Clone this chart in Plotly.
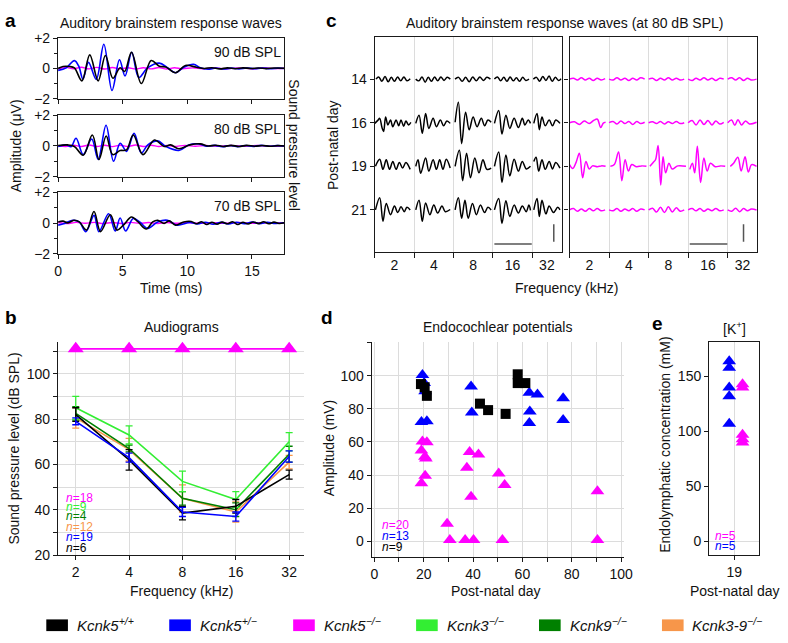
import math
import plotly.graph_objects as go

W, H = 788, 643
FONT = "Liberation Sans, Arial, Helvetica, sans-serif"

C_WT = "#000000"
C_HET = "#0000ff"
C_KO = "#ff00ff"
C_K3 = "#33ee33"
C_K9 = "#008000"
C_K39 = "#f7964a"
GRID = "#dcdcdc"

# ---------------- panel a : ABR waves (time ms, amplitude uV) ----------------
a90_ko = [(0, -0.05), (0.6, 0.07), (1.2, -0.02), (1.8, 0.08), (2.4, -0.03), (3.0, 0.07), (3.6, -0.04),
          (4.2, 0.06), (4.8, -0.03), (5.4, 0.05), (6.0, -0.04), (6.6, 0.05), (7.2, -0.03), (7.8, 0.06),
          (8.4, -0.04), (9.0, 0.05), (9.6, -0.02), (10.4, 0.04), (11.2, -0.02), (12, 0.03), (13, -0.02),
          (14, 0.03), (15, -0.02), (16, 0.03), (17, -0.01), (17.5, 0.01)]
a90_het = [(0, -0.13), (0.63, 0.04), (1.26, 0.52), (1.6, 0.15), (1.92, -0.7), (2.35, 0.4), (2.95, -0.72),
           (3.54, 1.6), (4.17, -1.46), (4.75, 0.58), (5.18, -0.5), (5.7, 1.07), (6.24, -0.6), (6.94, 0.05),
           (7.83, 0.35), (8.46, 0.05), (9.09, -0.28), (9.72, 0.08), (10.48, 0.28), (11, 0.04), (11.6, -0.05),
           (12.2, 0.03), (12.8, -0.04), (13.4, 0.02), (14, -0.03), (14.6, 0.03), (15.2, -0.02), (15.8, 0.03),
           (16.4, -0.02), (17, 0.02), (17.5, 0)]
a90_wt = [(0, 0), (0.38, 0.13), (0.88, 0.13), (1.26, 0.04), (1.84, -0.82), (2.45, 0.9), (3.1, -0.82),
          (3.66, 0.86), (4.24, -0.65), (4.8, 0.05), (5.15, -0.2), (5.68, 1.07), (6.44, -1.0), (7.2, 0.52),
          (7.83, 0.15), (8.33, 0.1), (9.09, -0.28), (9.85, 0.2), (10.7, 0.08), (11.3, 0.0), (11.9, 0.05),
          (12.5, -0.03), (13.1, 0.04), (13.7, -0.02), (14.3, 0.04), (14.9, 0.0), (15.5, 0.03), (16.1, -0.01),
          (16.7, 0.03), (17.5, 0.01)]

a80_ko = [(0, 0.02), (0.6, -0.04), (1.2, 0.05), (1.8, -0.03), (2.4, 0.06), (3.0, -0.03), (3.6, 0.05),
          (4.2, -0.04), (4.8, 0.05), (5.4, -0.03), (6.0, 0.06), (6.6, -0.03), (7.2, 0.05), (7.8, -0.03),
          (8.4, 0.04), (9.0, -0.03), (9.8, 0.04), (10.6, -0.02), (11.4, 0.03), (12.4, -0.02), (13.4, 0.03),
          (14.4, -0.02), (15.4, 0.03), (16.4, -0.02), (17.5, 0.01)]
a80_het = [(0, -0.03), (0.63, 0.07), (1.0, -0.05), (1.39, 0.5), (1.94, -0.56), (2.6, 0.45), (3.1, -0.88),
           (3.71, 1.35), (4.29, -0.99), (4.8, 0.18), (5.3, -0.35), (5.88, 0.82), (6.44, -0.46), (6.94, 0.07),
           (7.7, 0.33), (8.33, -0.03), (9.34, -0.29), (10.1, 0.07), (10.86, 0.14), (11.5, -0.02), (12.1, 0.04),
           (12.7, -0.05), (13.3, 0.03), (13.9, -0.04), (14.5, 0.03), (15.1, -0.03), (15.7, 0.04), (16.3, -0.02),
           (16.9, 0.02), (17.5, 0)]
a80_wt = [(0, 0.03), (0.76, 0.07), (1.26, -0.03), (1.94, -0.6), (2.65, 0.71), (3.16, -0.88), (3.72, 0.65),
          (4.22, -0.56), (4.8, -0.3), (5.3, -0.25), (5.81, 0.71), (6.57, -0.56), (7.45, 0.39), (8.2, -0.03),
          (8.7, 0.07), (9.34, -0.18), (10.2, 0.07), (11, 0.14), (11.6, 0.0), (12.2, 0.05), (12.8, -0.03),
          (13.4, 0.04), (14.0, -0.03), (14.6, 0.04), (15.2, -0.02), (15.8, 0.03), (16.4, -0.02), (17.0, 0.02),
          (17.5, 0)]

a70_ko = [(0, 0.03), (0.7, -0.03), (1.4, 0.04), (2.1, -0.02), (2.8, 0.04), (3.5, -0.03), (4.2, 0.03),
          (4.9, -0.03), (5.6, 0.04), (6.3, -0.02), (7.0, 0.03), (7.7, -0.03), (8.4, 0.03), (9.2, -0.02),
          (10.0, 0.03), (11.0, -0.02), (12.0, 0.02), (13.0, -0.02), (14.0, 0.03), (15.0, -0.02), (16.0, 0.02),
          (17.5, 0)]
a70_het = [(0, -0.14), (0.5, -0.03), (1.14, 0.18), (1.64, 0.07), (2.15, -0.56), (2.78, 0.5), (3.16, -0.56),
           (3.91, 0.6), (4.42, -0.52), (4.8, 0.33), (5.23, -0.52), (5.81, 0.29), (6.31, 0.07), (6.94, -0.35),
           (7.7, 0.07), (8.46, 0.18), (9.2, -0.14), (10.2, 0.03), (10.8, -0.06), (11.4, 0.05), (12.0, -0.08),
           (12.6, 0.04), (13.2, -0.06), (13.8, 0.05), (14.4, -0.05), (15.0, 0.06), (15.6, -0.04), (16.2, 0.05),
           (16.8, -0.03), (17.5, 0.02)]
a70_wt = [(0, 0.07), (0.38, 0.12), (0.76, 0.01), (1.26, 0.18), (1.64, 0.07), (2.2, -0.46), (2.78, 0.75),
          (3.28, -0.56), (4.04, 0.54), (4.55, -0.46), (5.05, -0.14), (5.68, 0.39), (6.19, 0.07), (6.82, -0.39),
          (7.32, 0.07), (7.7, 0.18), (8.2, -0.03), (8.59, 0.14), (9.09, -0.14), (9.72, 0.07), (10.3, 0.1),
          (10.7, -0.05), (11.1, 0.08), (11.5, -0.1), (11.9, 0.05), (12.3, -0.08), (12.7, 0.06), (13.1, -0.05),
          (13.5, 0.08), (13.9, -0.1), (14.3, 0.05), (14.7, -0.06), (15.1, 0.07), (15.5, -0.04), (15.9, 0.08),
          (16.3, -0.05), (16.7, 0.06), (17.1, -0.03), (17.5, 0.02)]

a_levels = ["90 dB SPL", "80 dB SPL", "70 dB SPL"]

# ---------------- panel b : audiograms ----------------
freq_khz = [2, 4, 8, 16, 32]
b_wt = [82, 62, 38.5, 41.5, 55.5]
b_wt_err = [3, 4.5, 3, 3, 2]
b_het = [79, 63, 39, 37, 63.5]
b_het_err = [1.5, 2, 2, 2, 2.5]
b_ko = [111, 111, 111, 111, 111]
b_k3 = [85, 73, 52.5, 44.5, 70]
b_k3_err = [5, 4, 4.5, 3.5, 4]
b_k9 = [82.5, 67, 45, 40, 64.5]
b_k9_err = [3, 1.5, 3, 3, 3.5]
b_k39 = [80.5, 66.5, 45, 39, 61]
b_k39_err = [4.5, 5, 6, 4.5, 3]
b_n = [("18", C_KO), ("9", C_K3), ("4", C_K9), ("12", C_K39), ("19", C_HET), ("6", C_WT)]

# ---------------- panel c : ABR waves at 80 dB SPL, per day and frequency ----------------
c_days = ["14", "16", "19", "21"]
c_freqs = ["2", "4", "8", "16", "32"]
# each row: five segments (2,4,8,16,32 kHz) of (time in segment, amplitude) pairs
c_wt_d14 = [
    [(0.3, 0), (1, 0.05), (1.8, -0.05), (2.6, 0.06), (3.4, -0.06), (4.2, 0.04), (5, -0.05), (5.8, 0.05), (6.6, -0.04), (7.4, 0.05), (8.2, -0.04), (9, 0.01)],
    [(0.4, 0), (1.2, -0.04), (2, 0.05), (2.8, -0.07), (3.6, 0.04), (4.4, -0.05), (5.2, 0.05), (6, -0.04), (6.8, 0.05), (7.6, -0.03), (8.4, 0.04), (9.2, 0)],
    [(0.4, 0), (1.3, 0.04), (2.2, -0.05), (3.1, 0.04), (4, -0.06), (4.9, 0.05), (5.8, -0.04), (6.7, 0.05), (7.6, -0.03), (8.5, 0.04), (9.4, 0)],
    [(0.4, 0), (1.2, 0.05), (2, -0.04), (2.8, 0.04), (3.6, -0.05), (4.4, 0.05), (5.2, -0.04), (6, 0.03), (6.8, -0.05), (7.6, 0.04), (8.4, -0.03), (9.2, 0)],
    [(0.3, 0), (1.1, 0.04), (1.9, -0.05), (2.7, 0.06), (3.5, -0.03), (4.3, 0.07), (5.1, -0.05), (5.9, 0.04), (6.7, -0.03), (7.4, 0.01)],
]
c_wt_d16 = [
    [(0, -0.015), (0.83, 0.06), (1.25, 0.1), (1.83, -0.11), (2.25, -0.2), (2.75, 0.13), (3.33, -0.05), (4, 0.06), (4.58, -0.09), (5.42, 0.06), (6.08, -0.07), (6.67, 0.06), (7.33, -0.08), (7.92, 0.04), (8.58, -0.05), (9.17, 0.01)],
    [(0.42, -0.015), (1.25, 0.17), (2.08, -0.24), (2.92, 0.21), (3.75, -0.13), (4.83, 0.1), (5.67, -0.09), (6.67, 0.06), (7.5, -0.07), (8.33, 0.04), (9.17, -0.015)],
    [(0.42, 0.01), (1.25, 0.47), (2.08, -0.48), (3.08, 0.24), (4, -0.16), (5, 0.13), (6, -0.09), (7.08, 0.1), (7.92, -0.07), (8.75, 0.06), (9.58, 0.01)],
    [(0.42, -0.015), (1.5, 0.28), (2.33, -0.26), (3.33, 0.17), (4.33, -0.13), (5.42, 0.1), (6.5, -0.11), (7.5, 0.1), (8.17, -0.05), (9, 0.06), (9.58, -0.015)],
    [(0.42, -0.015), (1.25, 0.21), (1.83, -0.16), (2.5, 0.13), (3.33, -0.07), (4.33, 0.06), (5.17, -0.07), (6, 0.06), (7.08, -0.015)],
]
c_wt_d19 = [
    [(0.17, 0), (1.25, 0.16), (2.08, -0.07), (2.92, 0.15), (3.75, -0.07), (4.58, 0.11), (5.42, -0.07), (6.25, 0.09), (7.08, -0.04), (7.92, 0.09), (9, -0.07)],
    [(0.42, 0), (1, 0.15), (1.67, -0.16), (2.92, 0.19), (3.75, -0.11), (4.83, 0.15), (5.67, -0.07), (6.5, 0.15), (7.33, -0.07), (8.17, 0.16), (9.17, -0.04)],
    [(0.42, 0), (1.5, 0.37), (2.33, -0.33), (3.33, 0.3), (4.33, -0.26), (5.42, 0.19), (6.5, -0.15), (7.5, 0.15), (8.5, -0.07), (9.58, -0.04)],
    [(0.42, 0), (1.5, 0.33), (2.33, -0.37), (3.33, 0.26), (4.33, -0.22), (5.42, 0.16), (6.5, -0.11), (7.5, 0.11), (8.5, -0.06), (9.58, 0)],
    [(0.42, 0.11), (1, 0.21), (1.67, -0.11), (2.5, 0.15), (3.33, -0.07), (4.33, 0.11), (5.17, -0.06), (6, 0.09), (7.08, -0.04)],
]
c_wt_d21 = [
    [(0.17, 0), (1.25, 0.28), (2.08, -0.26), (2.92, 0.15), (4, -0.11), (5, 0.09), (5.83, -0.06), (6.67, 0.07), (7.5, -0.04), (8.17, 0.06), (9, 0)],
    [(0.42, 0), (1.25, 0.22), (2.08, -0.26), (2.92, 0.16), (4, -0.11), (5, 0.11), (6, -0.07), (7.08, 0.09), (7.92, -0.04), (9.17, 0.01)],
    [(0.42, 0), (1.25, 0.28), (2.08, -0.19), (2.92, 0.22), (3.75, -0.19), (4.83, 0.15), (5.83, -0.11), (6.83, 0.11), (7.92, -0.06), (8.75, 0.06), (9.58, 0)],
    [(0.42, 0), (1.5, 0.26), (2.33, -0.31), (3.33, 0.21), (4.33, -0.15), (5.42, 0.11), (6.5, -0.07), (7.5, 0.09), (8.5, -0.04), (9.17, 0.11), (9.58, -0.01)],
    [(0.42, 0), (1.25, 0.26), (1.83, -0.15), (2.5, 0.22), (3.5, -0.09), (4.33, 0.09), (5.42, -0.06), (6.5, 0.06), (7.08, 0)],
]
c_ko_d14 = [
    [(0, 0), (1, 0.02), (2, -0.02), (3, 0.03), (4, -0.02), (5, 0.02), (6, -0.03), (7, 0.02), (8, -0.02), (9, 0.01)],
    [(0, 0), (1, -0.02), (2, 0.03), (3, -0.02), (4, 0.02), (5, -0.03), (6, 0.02), (7, -0.02), (8, 0.03), (9, 0)],
    [(0, 0), (1, 0.02), (2, -0.03), (3, 0.02), (4, -0.02), (5, 0.03), (6, -0.02), (7, 0.02), (8, -0.02), (9, 0)],
    [(0, 0), (1, -0.03), (2, 0.02), (3, -0.02), (4, 0.03), (5, -0.02), (6, 0.02), (7, -0.03), (8, 0.02), (9, 0)],
    [(0, 0), (1, 0.03), (2, -0.02), (3, 0.03), (4, -0.03), (5, 0.02), (6, -0.02), (7.3, 0)],
]
c_ko_d16 = [
    [(0, 0), (1.24, 0.02), (2.49, -0.04), (3.73, 0.04), (4.98, -0.02), (6.22, 0.06), (7.05, 0.08), (7.88, -0.11), (8.54, -0.01), (9.12, 0.01)],
    [(0, 0), (1, 0.03), (2, -0.03), (3, 0.04), (4, -0.02), (5, 0.03), (6, -0.04), (7, 0.03), (8, -0.02), (9, 0.01)],
    [(0, 0), (1, 0.02), (2, -0.02), (3, 0.03), (4, -0.03), (5, 0.02), (6, -0.02), (7, 0.03), (8, -0.02), (9, 0)],
    [(0, 0), (1, 0.05), (2, -0.05), (3, 0.06), (4, -0.04), (5, 0.05), (6, -0.05), (7, 0.04), (8, -0.03), (9, 0.01)],
    [(0, 0), (1, 0.06), (1.8, -0.06), (2.6, 0.07), (3.5, -0.05), (4.5, 0.04), (5.5, -0.03), (7.3, 0.01)],
]
c_ko_d19 = [
    [(0, 0.04), (0.83, -0.05), (1.66, 0.09), (2.49, 0.3), (3.32, -0.26), (4.15, 0.11), (4.98, -0.06), (5.8, 0.01), (7.05, -0.01), (8.04, 0.01), (9.12, 0)],
    [(0.33, 0), (1.33, 0.04), (2.4, 0.33), (3.23, -0.33), (4.06, 0.15), (4.89, -0.11), (5.72, 0.04), (6.97, -0.01), (8.21, 0.01), (9.45, 0)],
    [(0.33, 0), (1.16, 0.09), (1.74, 0.15), (2.4, 0.48), (3.07, -0.43), (3.65, 0.22), (4.31, -0.15), (5.14, 0.07), (5.97, -0.06), (7.38, 0.01), (9.45, 0)],
    [(0.41, -0.07), (1.08, 0.07), (1.66, -0.15), (2.32, 0.46), (3.15, -0.37), (3.98, 0.19), (4.81, -0.11), (5.64, 0.07), (6.88, -0.01), (8.13, 0.01), (9.37, 0)],
    [(0.66, 0), (1.49, 0.07), (2.57, 0.21), (3.4, -0.11), (4.39, 0.22), (5.22, -0.13), (6.05, 0.04), (7.3, 0)],
]
c_ko_d21 = [
    [(0, 0), (1, 0.03), (2, -0.03), (3, 0.02), (4, -0.03), (5, 0.03), (6, -0.02), (7, 0.03), (8, -0.02), (9, 0)],
    [(0, 0), (1, -0.02), (2, 0.03), (3, -0.03), (4, 0.02), (5, -0.02), (6, 0.03), (7, -0.03), (8, 0.02), (9, 0)],
    [(0, 0), (1, 0.04), (2, -0.05), (3, 0.06), (4, -0.06), (5, 0.07), (6, -0.05), (7, 0.05), (8, -0.03), (9, 0)],
    [(0, 0), (1, 0.03), (2, -0.02), (3, 0.03), (4, -0.03), (5, 0.02), (6, -0.02), (7, 0.03), (8, -0.02), (9, 0)],
    [(0, 0), (1, -0.03), (2, 0.04), (3, -0.04), (4, 0.03), (5, -0.02), (6, 0.02), (7.3, 0)],
]
c_scale_h = [30.4, 39.9]   # horizontal scale bar (segment units)
c_scale_v = [-3.33, -3.73]  # vertical scale bar (row units)

# ---------------- panel d : endocochlear potentials ----------------
d_wt_day = [18.9, 20.4, 21.3, 42.8, 46.1, 53.2, 58.1, 58.1, 61.2]
d_wt_ep = [94.9, 93.0, 87.8, 83.1, 79.2, 76.9, 100.8, 95.5, 95.5]
d_het_day = [19.5, 20.2, 20.6, 19.1, 21.3, 39.2, 39.5, 62.8, 66.1, 63.0, 62.8, 76.5, 76.5]
d_het_ep = [100.4, 95.5, 90.6, 72.0, 72.5, 93.5, 77.8, 89.6, 88.6, 78.4, 71.4, 86.3, 73.3]
d_ko_day = [19.5, 21.3, 19.1, 20.5, 20.9, 20.6, 19.1, 29.5, 30.6, 36.8, 40.2, 51.9, 90.4, 90.4,
            37.5, 38.6, 42.2, 39.2, 50.4, 52.8]
d_ko_ep = [60.2, 59.8, 54.9, 51.0, 50.0, 39.6, 35.1, 10.6, 0.8, 0.8, 0.8, 0.8, 0.8, 30.2,
           44.5, 53.9, 52.4, 26.9, 41.0, 34.1]
d_n = [("20", C_KO), ("13", C_HET), ("9", C_WT)]

# ---------------- panel e : endolymphatic [K+] ----------------
e_day = 19
e_het = [164, 158, 140, 132, 107]
e_ko = [143, 140, 97, 93, 90]
e_n = [("5", C_KO), ("5", C_HET)]

# ---------------- legend ----------------
legend_items = [("<i>Kcnk5<sup>+/+</sup></i>", C_WT), ("<i>Kcnk5<sup>+/−</sup></i>", C_HET),
                ("<i>Kcnk5<sup>−/−</sup></i>", C_KO), ("<i>Kcnk3<sup>−/−</sup></i>", C_K3),
                ("<i>Kcnk9<sup>−/−</sup></i>", C_K9), ("<i>Kcnk3-9<sup>−/−</sup></i>", C_K39)]

# =====================================================================
def xd(x0, x1):
    return [x0 / W, x1 / W]


def yd(top, bottom):
    return [1 - bottom / H, 1 - top / H]


def ax(**kw):
    d = dict(showline=True, linecolor="#1a1a1a", linewidth=1.3, ticks="outside", ticklen=4,
             tickwidth=1.2, tickcolor="#1a1a1a", tickfont=dict(size=14, family=FONT, color="#111"),
             showgrid=False, zeroline=False, fixedrange=True)
    d.update(kw)
    return d


fig = go.Figure()

# ---- panel a traces
a_sets = [(a90_ko, a90_het, a90_wt), (a80_ko, a80_het, a80_wt), (a70_ko, a70_het, a70_wt)]
for i, (ko, het, wt) in enumerate(a_sets):
    xa, ya = ("x" if i == 0 else f"x{i+1}"), ("y" if i == 0 else f"y{i+1}")
    for series, col, lw in [(ko, C_KO, 1.4), (het, C_HET, 1.6), (wt, C_WT, 1.6)]:
        fig.add_trace(go.Scatter(x=[p[0] for p in series], y=[p[1] for p in series], mode="lines",
                                 line=dict(color=col, width=lw, shape="spline", smoothing=1.0),
                                 xaxis=xa, yaxis=ya, showlegend=False, hoverinfo="skip"))

# ---- panel b traces
for vals, err, col in [(b_k39, b_k39_err, C_K39), (b_k9, b_k9_err, C_K9), (b_k3, b_k3_err, C_K3),
                       (b_wt, b_wt_err, C_WT), (b_het, b_het_err, C_HET)]:
    fig.add_trace(go.Scatter(x=freq_khz, y=vals, mode="lines", line=dict(color=col, width=1.6),
                             error_y=dict(type="data", array=err, color=col, thickness=1.3, width=3.5),
                             xaxis="x4", yaxis="y4", showlegend=False, hoverinfo="skip"))
fig.add_trace(go.Scatter(x=freq_khz, y=b_ko, mode="lines+markers", line=dict(color=C_KO, width=1.8),
                         marker=dict(symbol="triangle-up", size=14, color=C_KO), cliponaxis=False,
                         xaxis="x4", yaxis="y4", showlegend=False, hoverinfo="skip"))


# ---- panel c traces
def row_xy(segments, base):
    xs, ys = [], []
    for i, seg in enumerate(segments):
        for t, v in seg:
            xs.append(i * 10 + t)
            ys.append(base + v)
        xs.append(None)
        ys.append(None)
    return xs, ys


for rows, col, xa, ya in [([c_wt_d14, c_wt_d16, c_wt_d19, c_wt_d21], C_WT, "x5", "y5"),
                          ([c_ko_d14, c_ko_d16, c_ko_d19, c_ko_d21], C_KO, "x6", "y6")]:
    for r, segs in enumerate(rows):
        xs, ys = row_xy(segs, -r)
        fig.add_trace(go.Scatter(x=xs, y=ys, mode="lines", connectgaps=False,
                                 line=dict(color=col, width=1.5, shape="spline", smoothing=1.0),
                                 xaxis=xa, yaxis=ya, showlegend=False, hoverinfo="skip"))
    fig.add_trace(go.Scatter(x=c_scale_h, y=[-3.78, -3.78], mode="lines", line=dict(color="#555", width=1.5),
                             xaxis=xa, yaxis=ya, showlegend=False, hoverinfo="skip"))
    vx = 45.5 if xa == "x5" else 44.0
    fig.add_trace(go.Scatter(x=[vx, vx], y=c_scale_v, mode="lines", line=dict(color="#555", width=1.5),
                             xaxis=xa, yaxis=ya, showlegend=False, hoverinfo="skip"))

# ---- panel d traces
fig.add_trace(go.Scatter(x=d_ko_day, y=d_ko_ep, mode="markers",
                         marker=dict(symbol="triangle-up", size=12, color=C_KO), cliponaxis=False,
                         xaxis="x7", yaxis="y7", showlegend=False, hoverinfo="skip"))
fig.add_trace(go.Scatter(x=d_het_day, y=d_het_ep, mode="markers",
                         marker=dict(symbol="triangle-up", size=12, color=C_HET), cliponaxis=False,
                         xaxis="x7", yaxis="y7", showlegend=False, hoverinfo="skip"))
fig.add_trace(go.Scatter(x=d_wt_day, y=d_wt_ep, mode="markers",
                         marker=dict(symbol="square", size=10, color=C_WT), cliponaxis=False,
                         xaxis="x7", yaxis="y7", showlegend=False, hoverinfo="skip"))

# ---- panel e traces
fig.add_trace(go.Scatter(x=[e_day - 0.2] * len(e_het), y=e_het, mode="markers",
                         marker=dict(symbol="triangle-up", size=12, color=C_HET), cliponaxis=False,
                         xaxis="x8", yaxis="y8", showlegend=False, hoverinfo="skip"))
fig.add_trace(go.Scatter(x=[e_day + 0.33] * len(e_ko), y=e_ko, mode="markers",
                         marker=dict(symbol="triangle-up", size=12, color=C_KO), cliponaxis=False,
                         xaxis="x8", yaxis="y8", showlegend=False, hoverinfo="skip"))

# ---- axes
MINOR = dict(ticks="outside", ticklen=4, tickwidth=1.2, tickcolor="#1a1a1a")
layout_axes = {}
a_y = [(31, 93), (110, 173), (189, 252)]
for i, (t, b) in enumerate(a_y):
    xn = "xaxis" if i == 0 else f"xaxis{i+1}"
    yn = "yaxis" if i == 0 else f"yaxis{i+1}"
    layout_axes[xn] = ax(domain=xd(55, 285), anchor=("y" if i == 0 else f"y{i+1}"), range=[0, 17.5],
                         tickvals=[0, 5, 10, 15], showticklabels=(i == 2), mirror=True)
    layout_axes[yn] = ax(domain=yd(t, b), anchor=("x" if i == 0 else f"x{i+1}"), range=[-2, 2],
                         tickvals=[-2, 0, 2], ticktext=["−2", "0", "+2"], mirror=True,
                         minor=dict(tickvals=[-1, 1], ticks="outside", ticklen=3, tickcolor="#1a1a1a"))

layout_axes["xaxis4"] = ax(domain=xd(55, 305), anchor="y4", type="log",
                           range=[math.log10(1.59), math.log10(38.8)], tickvals=freq_khz,
                           ticktext=[str(f) for f in freq_khz], showgrid=True, gridcolor=GRID)
layout_axes["yaxis4"] = ax(domain=yd(343, 561), anchor="x4", range=[20, 113.8],
                           tickvals=[20, 40, 60, 80, 100], showgrid=True, gridcolor=GRID,
                           minor=dict(tickvals=[30, 50, 70, 90, 110], showgrid=True, gridcolor=GRID, **MINOR))

c_centers = [5, 15, 25, 35, 43.75]
for xn, yn, xa, ya, x0, x1, lab in [("xaxis5", "yaxis5", "x5", "y5", 377, 567, True),
                                    ("xaxis6", "yaxis6", "x6", "y6", 575, 766, False)]:
    layout_axes[xn] = ax(domain=xd(x0, x1), anchor=ya, range=[0, 47.5], tickvals=c_centers,
                         ticktext=c_freqs, ticks="", mirror=True,
                         minor=dict(tickvals=[0, 10, 20, 30, 40], ticks="outside", ticklen=5,
                                    tickcolor="#1a1a1a", showgrid=True, gridcolor=GRID, gridwidth=1.2))
    layout_axes[yn] = ax(domain=yd(30, 250), anchor=xa, range=[-3.96, 0.96], tickvals=[0, -1, -2, -3],
                         ticktext=c_days, showticklabels=lab, mirror=True)

layout_axes["xaxis7"] = ax(domain=xd(374, 630), anchor="y7", range=[-1, 101],
                           tickvals=[0, 20, 40, 60, 80, 100], showgrid=True, gridcolor=GRID,
                           minor=dict(tickvals=[10, 30, 50, 70, 90], showgrid=True, gridcolor=GRID, **MINOR))
layout_axes["yaxis7"] = ax(domain=yd(343, 563), anchor="x7", range=[-9.4, 120],
                           tickvals=[0, 20, 40, 60, 80, 100], showgrid=True, gridcolor=GRID,
                           minor=dict(tickvals=[120], showgrid=False, **MINOR))

layout_axes["xaxis8"] = ax(domain=xd(717, 768), anchor="y8", range=[18, 20], tickvals=[19],
                           ticktext=["19"], showgrid=True, gridcolor=GRID, mirror=True)
layout_axes["yaxis8"] = ax(domain=yd(343, 561), anchor="x8", range=[-12.4, 181],
                           tickvals=[0, 50, 100, 150], mirror=True, zeroline=True,
                           zerolinecolor=GRID, zerolinewidth=1.2)

# ---- annotations
ann = []


def text(x, y, s, size=14, color="#111", angle=0, xanchor="center", bold=False):
    ann.append(dict(x=x / W, y=1 - y / H, xref="paper", yref="paper", text=(f"<b>{s}</b>" if bold else s),
                    showarrow=False, xanchor=xanchor, yanchor="middle", textangle=angle,
                    font=dict(size=size, color=color, family=FONT)))


text(7, 13, "a", 19, "#000", bold=True)
text(333, 13, "c", 19, "#000", bold=True)
text(7, 317, "b", 19, "#000", bold=True)
text(328, 317, "d", 19, "#000", bold=True)
text(664, 324, "e", 19, "#000", bold=True)

text(170, 15, "Auditory brainstem response waves")
text(570, 15, "Auditory brainstem response waves (at 80 dB SPL)")
text(180, 327, "Audiograms")
text(502, 327, "Endocochlear potentials")
text(743, 328, "[K<sup>+</sup>]")

for lvl, yy in zip(a_levels, [45, 124, 203]):
    text(248, yy, lvl)
text(13, 141, "Amplitude (μV)", angle=-90)
text(294, 141, "Sound pressure level", angle=90)
text(170, 287, "Time (ms)")

text(10, 452, "Sound pressure level (dB SPL)", angle=-90)
text(180, 598, "Frequency (kHz)")
for (n, col), yy in zip(b_n, [502, 511.5, 521, 532, 543, 553.5]):
    text(61, yy, f"<i>n</i>={n}", 12, col, xanchor="left")

text(572, 287, "Frequency (kHz)")
text(334, 140, "Post-natal day", angle=-90)

text(330, 452, "Amplitude (mV)", angle=-90)
text(500, 598, "Post-natal day")
for (n, col), yy in zip(d_n, [530, 541, 553]):
    text(382, yy, f"<i>n</i>={n}", 12, col, xanchor="left")

text(672, 448, "Endolymphatic concentration (mM)", angle=-90)
text(743, 598, "Post-natal day")
for (n, col), yy in zip(e_n, [541, 552]):
    text(721, yy, f"<i>n</i>={n}", 12, col, xanchor="left")

shapes = []
leg_x = [43, 168, 294, 419, 544, 669]
for (lab, col), lx in zip(legend_items, leg_x):
    shapes.append(dict(type="rect", xref="paper", yref="paper", x0=lx / W, x1=(lx + 22) / W,
                       y0=1 - 639 / H, y1=1 - 627 / H, fillcolor=col, line=dict(width=0)))
    text(lx + 29, 632, lab, 15, "#111", xanchor="left")

fig.update_layout(width=W, height=H, margin=dict(l=0, r=0, t=0, b=0), paper_bgcolor="white",
                  plot_bgcolor="white", showlegend=False, annotations=ann, shapes=shapes,
                  font=dict(family=FONT, size=14, color="#111"), **layout_axes)

fig.write_html("out.html", config={"displayModeBar": False},
               post_script="document.body.style.margin='0';")
